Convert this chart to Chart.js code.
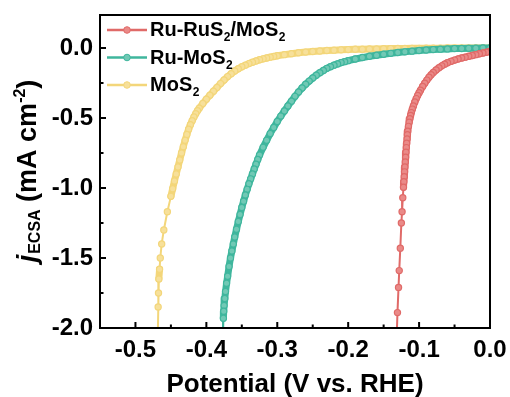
<!DOCTYPE html>
<html>
<head>
<meta charset="utf-8">
<script src="https://cdn.jsdelivr.net/npm/chart.js@4.4.0/dist/chart.umd.min.js"></script>
<style>
  html, body { margin: 0; padding: 0; background: #fff; }
  #wrap { width: 510px; height: 397px; }
</style>
</head>
<body>
<div id="wrap"><canvas id="chartLsv" width="510" height="397"></canvas></div>
<script>
const FONT = '"Liberation Sans", Arial, sans-serif';

// Ru-RuS2/MoS2 (V vs. RHE, mA cm-2)
const potRu = [0.000, -0.005, -0.010, -0.015, -0.020, -0.025, -0.030, -0.035, -0.040, -0.045,
  -0.050, -0.055, -0.060, -0.064, -0.068, -0.072, -0.076, -0.080, -0.083, -0.086,
  -0.089, -0.092, -0.095, -0.098, -0.100, -0.102, -0.104, -0.106, -0.108, -0.1095,
  -0.111, -0.112, -0.113, -0.114, -0.115, -0.116, -0.1165, -0.117, -0.1175, -0.118,
  -0.1185, -0.119, -0.1195, -0.120, -0.1205, -0.121, -0.1215, -0.122, -0.123, -0.124,
  -0.125, -0.1265, -0.128, -0.129, -0.1305, -0.1315];
const curRu = [-0.025, -0.031, -0.036, -0.042, -0.048, -0.054, -0.060, -0.066, -0.072, -0.079,
  -0.087, -0.096, -0.106, -0.116, -0.128, -0.142, -0.158, -0.176, -0.192, -0.210,
  -0.230, -0.252, -0.276, -0.302, -0.320, -0.340, -0.362, -0.386, -0.414, -0.437,
  -0.462, -0.482, -0.505, -0.530, -0.560, -0.595, -0.620, -0.650, -0.680, -0.712,
  -0.745, -0.780, -0.815, -0.850, -0.885, -0.920, -0.955, -0.995, -1.07, -1.17,
  -1.25, -1.43, -1.59, -1.71, -1.89, -2.05];

// Ru-MoS2
const potRuMo = [0.00, -0.01, -0.02, -0.03, -0.04, -0.05, -0.06, -0.07, -0.08, -0.09,
  -0.10, -0.11, -0.12, -0.13, -0.14, -0.15, -0.16, -0.17, -0.18, -0.19,
  -0.20, -0.205, -0.21, -0.215, -0.22, -0.225, -0.23, -0.235, -0.24, -0.245,
  -0.25, -0.255, -0.26, -0.265, -0.27, -0.275, -0.28, -0.285, -0.29, -0.295,
  -0.30, -0.305, -0.31, -0.315, -0.32, -0.325, -0.3275, -0.33, -0.3325, -0.335,
  -0.3375, -0.34, -0.3425, -0.345, -0.3475, -0.35, -0.3525, -0.355, -0.3575, -0.36,
  -0.362, -0.364, -0.366, -0.368, -0.370, -0.3715, -0.373, -0.374, -0.375, -0.3755,
  -0.376, -0.3765];
const curRuMo = [0.000, -0.001, -0.002, -0.003, -0.004, -0.005, -0.007, -0.009, -0.012, -0.015,
  -0.019, -0.023, -0.028, -0.033, -0.039, -0.045, -0.052, -0.060, -0.069, -0.079,
  -0.091, -0.098, -0.105, -0.114, -0.123, -0.134, -0.146, -0.161, -0.177, -0.195,
  -0.215, -0.237, -0.260, -0.286, -0.315, -0.346, -0.380, -0.414, -0.450, -0.487,
  -0.525, -0.568, -0.612, -0.660, -0.710, -0.765, -0.797, -0.830, -0.865, -0.900,
  -0.935, -0.970, -1.01, -1.05, -1.095, -1.14, -1.19, -1.24, -1.295, -1.35,
  -1.40, -1.45, -1.50, -1.56, -1.63, -1.68, -1.74, -1.79, -1.84, -1.88,
  -1.93, -2.05];

// MoS2
const potMo = [0.00, -0.01, -0.02, -0.03, -0.04, -0.05, -0.06, -0.07, -0.08, -0.09,
  -0.10, -0.11, -0.12, -0.13, -0.14, -0.15, -0.16, -0.17, -0.18, -0.19,
  -0.20, -0.21, -0.22, -0.23, -0.24, -0.25, -0.26, -0.27, -0.28, -0.29,
  -0.30, -0.305, -0.31, -0.315, -0.32, -0.325, -0.33, -0.335, -0.34, -0.345,
  -0.35, -0.355, -0.36, -0.365, -0.37, -0.375, -0.38, -0.385, -0.39, -0.395,
  -0.40, -0.405, -0.41, -0.4125, -0.415, -0.4175, -0.42, -0.4225, -0.425, -0.4275,
  -0.43, -0.4325, -0.435, -0.4375, -0.44, -0.4425, -0.445, -0.4475, -0.45, -0.455,
  -0.46, -0.463, -0.465, -0.466, -0.467, -0.4675, -0.468, -0.4685];
const curMo = [0.000, -0.000, -0.000, -0.001, -0.001, -0.001, -0.001, -0.002, -0.002, -0.002,
  -0.003, -0.003, -0.004, -0.004, -0.005, -0.006, -0.007, -0.008, -0.009, -0.010,
  -0.012, -0.014, -0.016, -0.019, -0.022, -0.026, -0.030, -0.035, -0.041, -0.048,
  -0.056, -0.061, -0.066, -0.072, -0.078, -0.085, -0.093, -0.102, -0.112, -0.123,
  -0.135, -0.149, -0.165, -0.184, -0.205, -0.229, -0.255, -0.282, -0.310, -0.338,
  -0.367, -0.397, -0.430, -0.448, -0.470, -0.493, -0.520, -0.548, -0.580, -0.618,
  -0.660, -0.705, -0.750, -0.800, -0.850, -0.900, -0.950, -1.005, -1.06, -1.17,
  -1.30, -1.40, -1.50, -1.58, -1.65, -1.75, -1.85, -2.05];

const seriesNames = ['Ru-RuS\u2082/MoS\u2082', 'Ru-MoS\u2082', 'MoS\u2082'];
const seriesColors = ['#E06A68', '#3FB69D', '#F3D67A'];
const seriesFill = ['#EA8A88', '#71C9B5', '#F7E09A'];

const xTicks = [-0.5, -0.4, -0.3, -0.2, -0.1, 0.0];
const xMinor = [-0.45, -0.35, -0.25, -0.15, -0.05];
const yTicks = [0.0, -0.5, -1.0, -1.5, -2.0];
const yMinor = [-0.25, -0.75, -1.25, -1.75];

function toPoints(xs, ys) {
    return xs.map((v, i) => ({ x: v, y: ys[i] }));
}

// draws a string, turning the subscript two into a real lowered "2"
function drawRich(ctx, x, y, text, size) {
    const parts = text.split('\u2082');
    parts.forEach((p, i) => {
        ctx.font = `bold ${size}px ${FONT}`;
        ctx.fillText(p, x, y);
        x += ctx.measureText(p).width;
        if (i < parts.length - 1) {
            ctx.font = `bold ${Math.round(size * 0.62)}px ${FONT}`;
            ctx.fillText('2', x + 0.5, y + 5);
            x += ctx.measureText('2').width + 0.5;
        }
    });
}

const decorPlugin = {
    id: 'decor',
    afterDatasetsDraw(chart) {
        const { ctx, chartArea: a, scales: { x, y } } = chart;
        ctx.save();
        ctx.strokeStyle = '#000';
        ctx.lineWidth = 2;
        ctx.strokeRect(a.left, a.top, a.right - a.left, a.bottom - a.top);

        // inward ticks
        ctx.beginPath();
        xTicks.forEach(v => { const p = x.getPixelForValue(v); ctx.moveTo(p, a.bottom); ctx.lineTo(p, a.bottom - 6); });
        xMinor.forEach(v => { const p = x.getPixelForValue(v); ctx.moveTo(p, a.bottom); ctx.lineTo(p, a.bottom - 3.5); });
        yTicks.forEach(v => { const p = y.getPixelForValue(v); ctx.moveTo(a.left, p); ctx.lineTo(a.left + 6, p); });
        yMinor.forEach(v => { const p = y.getPixelForValue(v); ctx.moveTo(a.left, p); ctx.lineTo(a.left + 3.5, p); });
        ctx.stroke();

        // legend
        ctx.textBaseline = 'alphabetic';
        ctx.textAlign = 'left';
        seriesNames.forEach((name, i) => {
            const ry = a.top + 15 + i * 27.5;
            const lx = a.left + 7;
            ctx.strokeStyle = seriesColors[i];
            ctx.lineWidth = 2.5;
            ctx.beginPath();
            ctx.moveTo(lx, ry);
            ctx.lineTo(lx + 40, ry);
            ctx.stroke();
            ctx.beginPath();
            ctx.arc(lx + 20, ry, 3.3, 0, Math.PI * 2);
            ctx.fillStyle = seriesFill[i];
            ctx.fill();
            ctx.lineWidth = 1;
            ctx.stroke();
            ctx.fillStyle = '#000';
            drawRich(ctx, lx + 43, ry + 6, name, 20);
        });
        ctx.restore();
    },
    afterDraw(chart) {
        const { ctx, chartArea: a } = chart;
        ctx.save();
        ctx.fillStyle = '#000';
        ctx.textBaseline = 'alphabetic';

        // x title
        ctx.font = `bold 26px ${FONT}`;
        ctx.textAlign = 'center';
        ctx.fillText('Potential (V vs. RHE)', (a.left + a.right) / 2, 392);

        // y title: j_ECSA (mA cm^-2)
        const runs = [
            { t: 'j', f: `italic bold 27px ${FONT}`, dy: 0 },
            { t: 'ECSA', f: `bold 16px ${FONT}`, dy: 4 },
            { t: ' (mA cm', f: `bold 27px ${FONT}`, dy: 0 },
            { t: '-2', f: `bold 16px ${FONT}`, dy: -11 },
            { t: ')', f: `bold 27px ${FONT}`, dy: 0 }
        ];
        ctx.textAlign = 'left';
        let total = 0;
        runs.forEach(r => { ctx.font = r.f; r.w = ctx.measureText(r.t).width; total += r.w; });
        ctx.translate(36, (a.top + a.bottom) / 2);
        ctx.rotate(-Math.PI / 2);
        let cx = -total / 2;
        runs.forEach(r => {
            ctx.font = r.f;
            ctx.fillText(r.t, cx, r.dy);
            cx += r.w + (r.t === 'j' ? 1 : 0);
        });
        ctx.restore();
    }
};

// where markers crowd together the curve reads as a thick band
const segWidth = c => Math.hypot(c.p1.x - c.p0.x, c.p1.y - c.p0.y) < 10 ? 7 : 2;

new Chart(document.getElementById('chartLsv'), {
    type: 'line',
    data: {
        datasets: [
            { label: seriesNames[0], data: toPoints(potRu, curRu) },
            { label: seriesNames[1], data: toPoints(potRuMo, curRuMo) },
            { label: seriesNames[2], data: toPoints(potMo, curMo) }
        ].map((d, i) => Object.assign(d, {
            borderColor: seriesColors[i],
            backgroundColor: seriesFill[i],
            pointBackgroundColor: seriesFill[i],
            pointBorderColor: seriesColors[i],
            pointRadius: 3.1,
            pointBorderWidth: 1.2,
            borderWidth: 2,
            borderCapStyle: 'round',
            borderJoinStyle: 'round',
            segment: { borderWidth: segWidth },
            tension: 0
        }))
    },
    options: {
        responsive: false,
        animation: false,
        devicePixelRatio: 1,
        layout: { padding: { top: 15, right: 20, left: 0, bottom: 0 } },
        plugins: {
            legend: { display: false },
            tooltip: { enabled: false }
        },
        scales: {
            x: {
                type: 'linear',
                min: -0.55,
                max: 0,
                grid: { display: false, drawTicks: false },
                border: { display: false },
                afterBuildTicks: s => { s.ticks = xTicks.map(v => ({ value: v })); },
                afterFit: s => { s.height = 69; s.paddingLeft = 0; s.paddingRight = 0; },
                ticks: {
                    color: '#000',
                    padding: 8,
                    maxRotation: 0,
                    font: { family: FONT, size: 24, weight: 'bold' },
                    callback: v => v.toFixed(1)
                }
            },
            y: {
                min: -2,
                max: 0.235,
                grid: { display: false, drawTicks: false },
                border: { display: false },
                afterBuildTicks: s => { s.ticks = yTicks.map(v => ({ value: v })); },
                afterFit: s => { s.width = 100; s.paddingTop = 0; s.paddingBottom = 0; },
                ticks: {
                    color: '#000',
                    padding: 7,
                    font: { family: FONT, size: 24, weight: 'bold' },
                    callback: v => v.toFixed(1)
                }
            }
        }
    },
    plugins: [decorPlugin]
});
</script>
</body>
</html>
